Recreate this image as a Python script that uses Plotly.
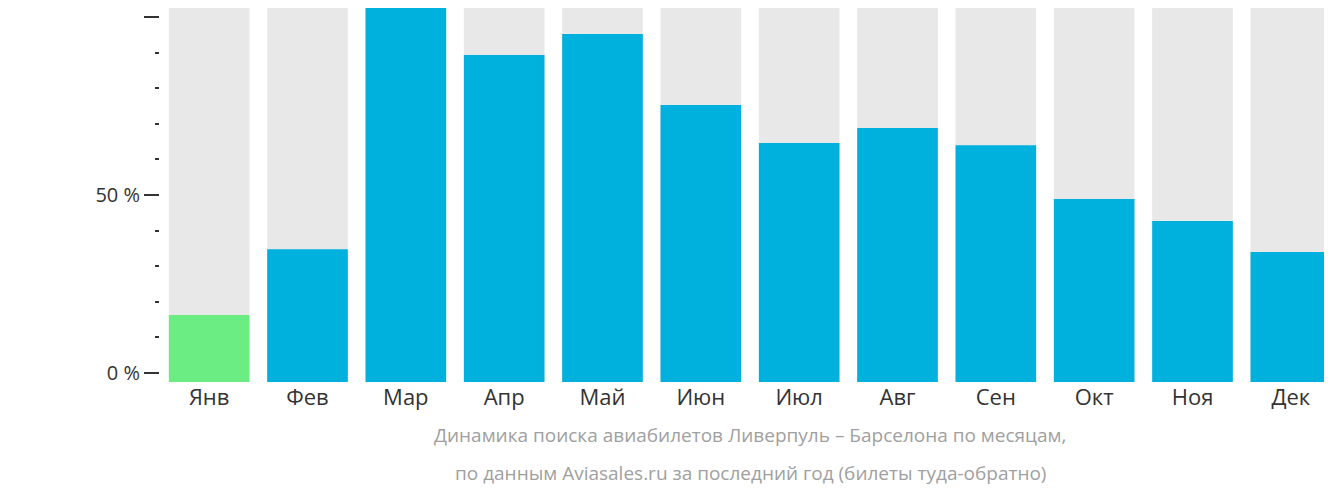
import plotly.graph_objects as go

months = ["Янв", "Фев", "Мар", "Апр", "Май", "Июн", "Июл", "Авг", "Сен", "Окт", "Ноя", "Дек"]
values = [16.3, 34.8, 103, 89.3, 95.2, 75.3, 64.6, 68.8, 64.0, 48.9, 42.7, 34.0]
background = [103] * 12
colors = ["#6ced84"] + ["#00b0dd"] * 11

fig = go.Figure()
fig.add_trace(go.Bar(x=months, y=[b + 2.5 for b in background], base=-2.5,
                     marker=dict(color="#e8e8e8", line_width=0), hoverinfo="skip"))
fig.add_trace(go.Bar(x=months, y=[v + 2.5 for v in values], base=-2.5,
                     marker=dict(color=colors, line_width=0),
                     customdata=values, hovertemplate="%{x}: %{customdata}%<extra></extra>"))

fig.update_layout(
    width=1332, height=502, barmode="overlay", bargap=0.18, showlegend=False,
    plot_bgcolor="white", paper_bgcolor="white",
    margin=dict(l=152, r=0, t=0, b=128, autoexpand=False),
    font=dict(family="Open Sans", color="#333333"),
)
fig.update_yaxes(range=[-2.5, 102.5], tickvals=[0, 50, 100], ticktext=["0 %", "50 %", "100 %"],
                 ticks="outside", ticklen=15, tickcolor="#333", tickwidth=2,
                 showgrid=False, zeroline=False, showline=False, tickfont=dict(size=20),
                 minor=dict(dtick=10, ticks="outside", ticklen=4, tickcolor="#333", tickwidth=2, showgrid=False))
fig.update_xaxes(showgrid=False, showline=False, tickfont=dict(size=22))

fig.add_annotation(text="Динамика поиска авиабилетов Ливерпуль – Барселона по месяцам,",
                   xref="paper", yref="paper", x=0.5, y=-0.182, showarrow=False,
                   font=dict(size=19, color="#a0a0a0"))
fig.add_annotation(text="по данным Aviasales.ru за последний год (билеты туда-обратно)",
                   xref="paper", yref="paper", x=0.5, y=-0.283, showarrow=False,
                   font=dict(size=19, color="#a0a0a0"))

fig.write_html("out.html")
